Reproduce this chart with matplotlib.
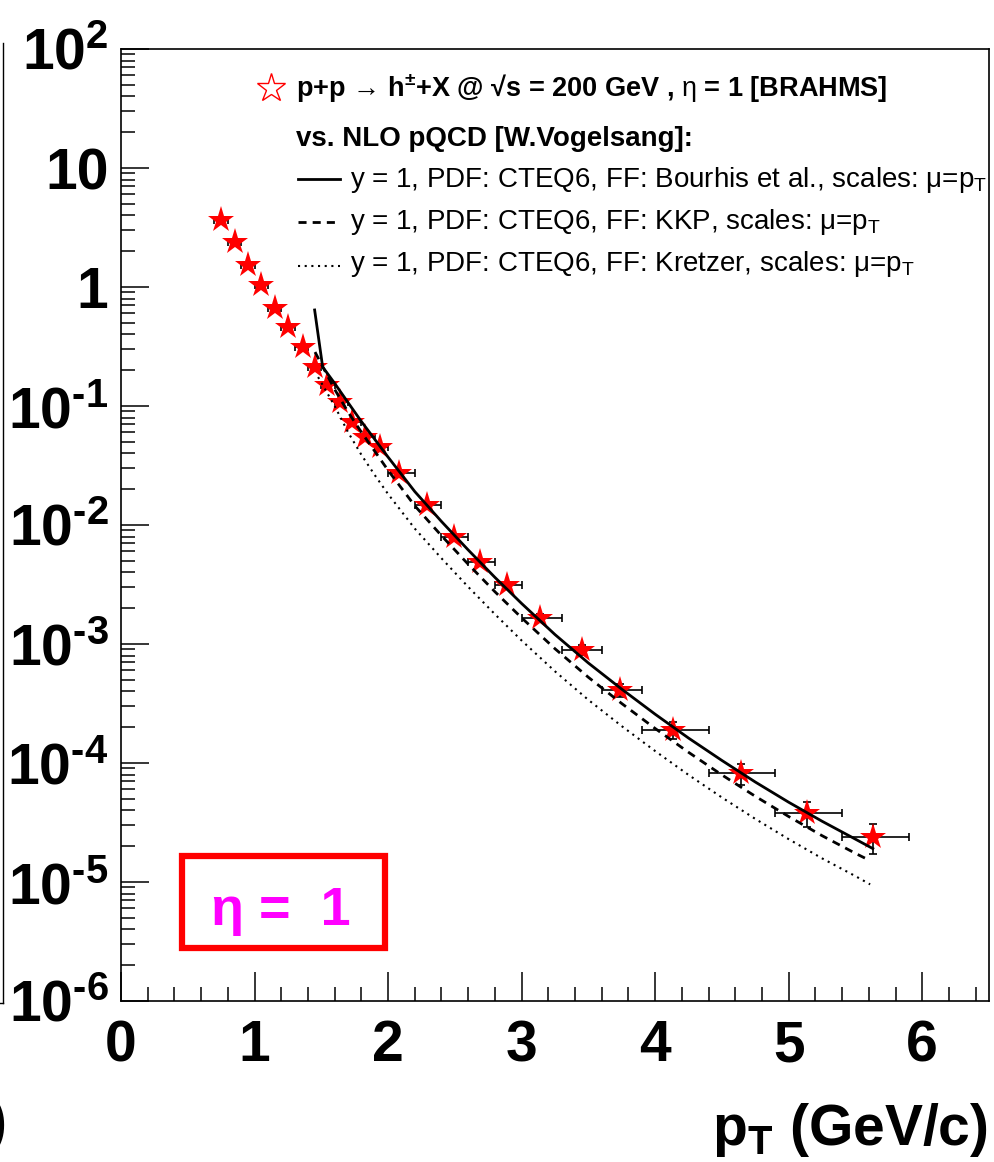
import numpy as np
import matplotlib
matplotlib.use("Agg")
import matplotlib.pyplot as plt
from matplotlib.lines import Line2D
from matplotlib.patches import Rectangle
from matplotlib.ticker import FixedLocator, MultipleLocator, LogLocator, NullFormatter

plt.rcParams['font.family'] = ['Liberation Sans', 'DejaVu Sans']
plt.rcParams['mathtext.fontset'] = 'custom'
plt.rcParams['mathtext.rm'] = 'Liberation Sans'
plt.rcParams['mathtext.it'] = 'Liberation Sans'
plt.rcParams['mathtext.bf'] = 'Liberation Sans:bold'
plt.rcParams['mathtext.default'] = 'regular'

# BRAHMS h+- yields, eta = 1
pt = [0.75, 0.85, 0.95, 1.05, 1.15, 1.25, 1.36, 1.45, 1.54, 1.64, 1.73, 1.83, 1.94,
      2.08, 2.29, 2.49, 2.69, 2.89, 3.14, 3.45, 3.74, 4.13, 4.64, 5.14, 5.63]
bin_lo = [0.7, 0.8, 0.9, 1.0, 1.1, 1.2, 1.3, 1.4, 1.5, 1.6, 1.7, 1.8, 1.9,
          2.0, 2.2, 2.4, 2.6, 2.8, 3.0, 3.3, 3.6, 3.9, 4.4, 4.9, 5.4]
bin_hi = [0.8, 0.9, 1.0, 1.1, 1.2, 1.3, 1.4, 1.5, 1.6, 1.7, 1.8, 1.9, 2.0,
          2.2, 2.4, 2.6, 2.8, 3.0, 3.3, 3.6, 3.9, 4.4, 4.9, 5.4, 5.9]
yld = [3.66, 2.39, 1.53, 1.04, 0.667, 0.461, 0.313, 0.213, 0.150, 0.108, 0.0734, 0.0548, 0.045,
       0.0273, 0.0147, 7.93e-3, 4.89e-3, 3.13e-3, 1.65e-3, 8.9e-4, 4.1e-4, 1.89e-4, 8.2e-5, 3.8e-5, 2.39e-5]
yld_relerr = [0.05] * 13 + [0.05, 0.05, 0.06, 0.06, 0.07, 0.08, 0.10, 0.12, 0.16, 0.20, 0.24, 0.28]

# NLO pQCD curves (W. Vogelsang)
bourhis_pt = [1.45, 1.51, 1.6, 1.7, 1.8, 1.9, 2.0, 2.2, 2.4, 2.6, 2.8, 3.0, 3.25, 3.5, 3.75,
              4.0, 4.25, 4.5, 4.75, 5.0, 5.25, 5.5, 5.63]
bourhis_y = [0.641, 0.213, 0.155, 0.107, 0.0741, 0.0525, 0.0372, 0.0191, 0.0107, 6.17e-3, 3.63e-3,
             2.19e-3, 1.20e-3, 6.92e-4, 4.17e-4, 2.57e-4, 1.62e-4, 1.05e-4, 6.92e-5, 4.68e-5,
             3.24e-5, 2.29e-5, 1.91e-5]
kkp_pt = [1.453, 1.6, 1.7, 1.8, 1.9, 2.0, 2.2, 2.4, 2.6, 2.8, 3.0, 3.25, 3.5, 3.75,
          4.0, 4.25, 4.5, 4.75, 5.0, 5.25, 5.5, 5.59]
kkp_y = [0.284, 0.138, 0.0891, 0.0603, 0.0417, 0.0288, 0.0145, 8.13e-3, 4.68e-3, 2.75e-3,
         1.66e-3, 9.12e-4, 5.25e-4, 3.16e-4, 1.95e-4, 1.23e-4, 7.94e-5, 5.25e-5, 3.55e-5,
         2.45e-5, 1.74e-5, 1.55e-5]
kretzer_pt = [1.476, 1.6, 1.7, 1.8, 1.9, 2.0, 2.2, 2.4, 2.6, 2.8, 3.0, 3.25, 3.5, 3.75,
              4.0, 4.25, 4.5, 4.75, 5.0, 5.25, 5.5, 5.61]
kretzer_y = [0.175, 0.1, 0.0603, 0.0389, 0.0263, 0.0182, 9.33e-3, 5.25e-3, 3.02e-3, 1.78e-3,
             1.07e-3, 5.89e-4, 3.39e-4, 2.04e-4, 1.26e-4, 7.94e-5, 5.13e-5, 3.39e-5, 2.29e-5,
             1.58e-5, 1.12e-5, 9.55e-6]

ytick_vals = [1e-6, 1e-5, 1e-4, 1e-3, 1e-2, 1e-1, 1, 10, 100]
ytick_labels = ['$10^{\u20106}$', '$10^{\u20105}$', '$10^{\u20104}$', '$10^{\u20103}$',
                '$10^{\u20102}$', '$10^{\u20101}$', '1', '10', '$10^{2}$']
xtick_vals = [0, 1, 2, 3, 4, 5, 6]

legend_head = "p+p \u2192 h$^{\\pm}$+X @ \u221as = 200 GeV , $\\mathrm{\\eta}$ = 1 [BRAHMS]"
legend_sub = "vs. NLO pQCD [W.Vogelsang]:"
legend_curves = ["y = 1, PDF: CTEQ6, FF: Bourhis et al., scales: \u03bc=p$_{T}$",
                 "y = 1, PDF: CTEQ6, FF: KKP, scales: \u03bc=p$_{T}$",
                 "y = 1, PDF: CTEQ6, FF: Kretzer, scales: \u03bc=p$_{T}$"]

W, H = 995, 1162
fig = plt.figure(figsize=(W / 100, H / 100), dpi=100)
ax = fig.add_axes([121 / W, (H - 1001) / H, 868 / W, 952 / H])

pt_a = np.array(pt)
y_a = np.array(yld)
xerr = [pt_a - np.array(bin_lo), np.array(bin_hi) - pt_a]
yerr = y_a * np.array(yld_relerr)
ax.errorbar(pt_a, y_a, xerr=xerr, yerr=yerr, fmt='none', ecolor='black',
            elinewidth=1.2, capsize=3, capthick=1.2, zorder=2)
ax.plot(pt_a, y_a, linestyle='none', marker='*', color='red', markersize=20,
        markeredgewidth=0, zorder=3)

dash_style = (2.9, 2.2)
dot_style = (1, 2.2)
ax.plot(bourhis_pt, bourhis_y, color='black', lw=2.0, zorder=4)
ax.plot(kkp_pt, kkp_y, color='black', lw=2.0, dashes=dash_style, zorder=4)
ax.plot(kretzer_pt, kretzer_y, color='black', lw=1.5, dashes=dot_style, zorder=4)

ax.set_yscale('log')
ax.set_xlim(0, 6.5)
ax.set_ylim(1e-6, 1e2)

ax.yaxis.set_major_locator(FixedLocator(ytick_vals))
ax.yaxis.set_minor_locator(LogLocator(base=10, subs=np.arange(2, 10), numticks=20))
ax.yaxis.set_minor_formatter(NullFormatter())
ax.set_yticklabels(ytick_labels)
ax.set_xticks(xtick_vals)
ax.set_xticklabels([str(v) for v in xtick_vals])
ax.xaxis.set_minor_locator(MultipleLocator(0.2))
for lab in ax.get_xticklabels() + ax.get_yticklabels():
    lab.set_fontweight('bold')
    lab.set_fontsize(41)
ax.tick_params(which='both', direction='in', top=False, right=False, width=1.1)
ax.tick_params(axis='y', which='major', length=20, pad=9)
ax.tick_params(axis='y', which='minor', length=10)
ax.tick_params(axis='x', which='major', length=21, pad=13)
ax.tick_params(axis='x', which='minor', length=10)
for sp in ax.spines.values():
    sp.set_linewidth(1.2)

fig.text(988 / W, 1 - 1145 / H, "p$_{T}$ (GeV/c)", ha='right', va='baseline',
         fontsize=41, fontweight='bold')

# legend, drawn by hand to follow the ROOT layout
tr = ax.transAxes
ax.plot([0.1728], [0.9590], transform=tr, linestyle='none', marker='*', markersize=21,
        markerfacecolor='none', markeredgecolor='red', markeredgewidth=1.0, clip_on=False)
ax.text(0.2016, 0.9496, legend_head, transform=tr, fontsize=19.5, fontweight='bold', va='baseline')
ax.text(0.2016, 0.8981, legend_sub, transform=tr, fontsize=20, fontweight='bold', va='baseline')
styles = [dict(lw=2.0), dict(lw=2.0, dashes=dash_style), dict(lw=1.5, dashes=dot_style)]
for i, (lab, st) in enumerate(zip(legend_curves, styles)):
    yb = [0.8550, 0.8109, 0.7668][i]
    yl = [0.8634, 0.8183, 0.7721][i]
    ax.plot([0.2039, 0.2523], [yl, yl], transform=tr, color='black', **st)
    ax.text(0.2638, yb, lab, transform=tr, fontsize=20, va='baseline')

# eta label box
ax.add_patch(Rectangle((0.0703, 0.0557), 0.2339, 0.0966, transform=tr,
                       facecolor='white', edgecolor='red', lw=4.5, zorder=5))
ax.text(0.1843, 0.0798, "\u03b7 =  1", transform=tr, ha='center', va='baseline',
        color='#ff00ff', fontsize=39, fontweight='bold', zorder=6)

# edge of the neighbouring panel
fig.add_artist(Line2D([3 / W, 3 / W], [1 - 43 / H, 1 - 1003 / H], color='black', lw=1.0))
fig.add_artist(Line2D([0, 3 / W], [1 - 1003 / H, 1 - 1003 / H], color='black', lw=1.0))
fig.text(7 / W, 1 - 1125 / H, ")", ha='right', va='center', fontsize=41, fontweight='bold')

fig.savefig('out.png', dpi=100)
